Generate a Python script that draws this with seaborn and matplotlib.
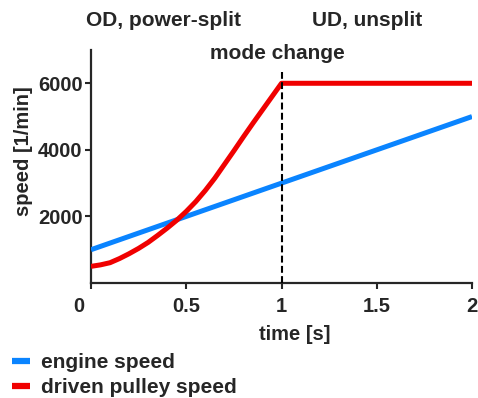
import matplotlib
matplotlib.use("Agg")
import matplotlib.pyplot as plt
import matplotlib.transforms as mtransforms
from matplotlib.lines import Line2D
import seaborn as sns
import pandas as pd

# ---- data ----
series_names = ["engine speed", "driven pulley speed"]
t_engine = [0.0, 2.0]
engine_speed = [1000, 5000]
t_pulley = [0.0, 0.05, 0.1, 0.15, 0.2, 0.25, 0.3, 0.35, 0.4, 0.45, 0.5,
            0.55, 0.6, 0.65, 0.7, 0.75, 0.8, 0.85, 0.9, 0.95, 1.0, 2.0]
pulley_speed = [500, 545, 610, 735, 880, 1040, 1220, 1430, 1650, 1885, 2150,
                2445, 2780, 3150, 3560, 3970, 4390, 4800, 5200, 5600, 6000, 6000]
mode_change_t = 1.0
mode_change_top = 6350
x_ticks = [0, 0.5, 1, 1.5, 2]
x_tick_labels = ["0", "0.5", "1", "1.5", "2"]
y_ticks = [2000, 4000, 6000]
y_tick_labels = ["2000", "4000", "6000"]
region_labels = ["OD, power-split", "UD, unsplit"]
mode_label = "mode change"

colors = {"engine speed": "#0A84FF", "driven pulley speed": "#F00000"}

df = pd.concat([
    pd.DataFrame({"time": t_engine, "speed": engine_speed, "series": series_names[0]}),
    pd.DataFrame({"time": t_pulley, "speed": pulley_speed, "series": series_names[1]}),
], ignore_index=True)

sns.set_style("ticks")
plt.rcParams["font.family"] = ["Liberation Sans", "DejaVu Sans"]
plt.rcParams["font.weight"] = "bold"

fig = plt.figure(figsize=(4.78, 3.98), dpi=100)
L, R, B, T = 91 / 478, 472 / 478, 1 - 283 / 398, 1 - 50 / 398
ax = fig.add_axes([L, B, R - L, T - B])

sns.lineplot(data=df, x="time", y="speed", hue="series", palette=colors,
             estimator=None, sort=True, linewidth=3.6, legend=False, ax=ax,
             solid_capstyle="butt", zorder=3)

ax.vlines(mode_change_t, 0, mode_change_top, colors="black", linewidth=1.5,
          linestyles=(0, (3.3, 1.6)), zorder=4)

ax.set_xlim(0, 2)
ax.set_ylim(0, 7000)
ax.set_xticks(x_ticks)
ax.set_xticklabels(x_tick_labels)
ax.set_yticks(y_ticks)
ax.set_yticklabels(y_tick_labels)
ax.set_xlabel("time [s]", fontsize=14.5, fontweight="bold")
ax.set_ylabel("speed [1/min]", fontsize=14.5, fontweight="bold")
ax.xaxis.set_label_coords(0.534, -0.18)
ax.yaxis.set_label_coords(-0.152, 0.567)
ax.tick_params(axis="both", labelsize=14.5, width=1.5, length=4, direction="out")
ax.tick_params(axis="x", pad=6)
ax.tick_params(axis="y", pad=2)
for lab in ax.get_xticklabels() + ax.get_yticklabels():
    lab.set_fontweight("bold")
# shift "0" label left like the reference
off = mtransforms.ScaledTranslation(-12 / 100, 0, fig.dpi_scale_trans)
ax.get_xticklabels()[0].set_transform(ax.get_xticklabels()[0].get_transform() + off)

for s in ["top", "right"]:
    ax.spines[s].set_visible(False)
for s in ["left", "bottom"]:
    ax.spines[s].set_linewidth(1.6)

fig.text(163.5 / 478, 1 - 26 / 398, region_labels[0], ha="center", va="baseline",
         fontsize=15, fontweight="bold")
fig.text(367.5 / 478, 1 - 26 / 398, region_labels[1], ha="center", va="baseline",
         fontsize=15, fontweight="bold")
fig.text(277 / 478, 1 - 59 / 398, mode_label, ha="center", va="baseline",
         fontsize=15, fontweight="bold")

handles = [Line2D([0], [0], color=colors[n], linewidth=4.5, solid_capstyle="butt") for n in series_names]
fig.legend(handles, series_names, loc="upper left", bbox_to_anchor=(12 / 478, 1 - 353 / 398),
           frameon=False, handlelength=0.85, handletextpad=0.55, labelspacing=0.3,
           borderaxespad=0, borderpad=0,
           prop={"family": ["Liberation Sans", "DejaVu Sans"], "weight": "bold", "size": 15})

fig.savefig("out.png", dpi=100)
